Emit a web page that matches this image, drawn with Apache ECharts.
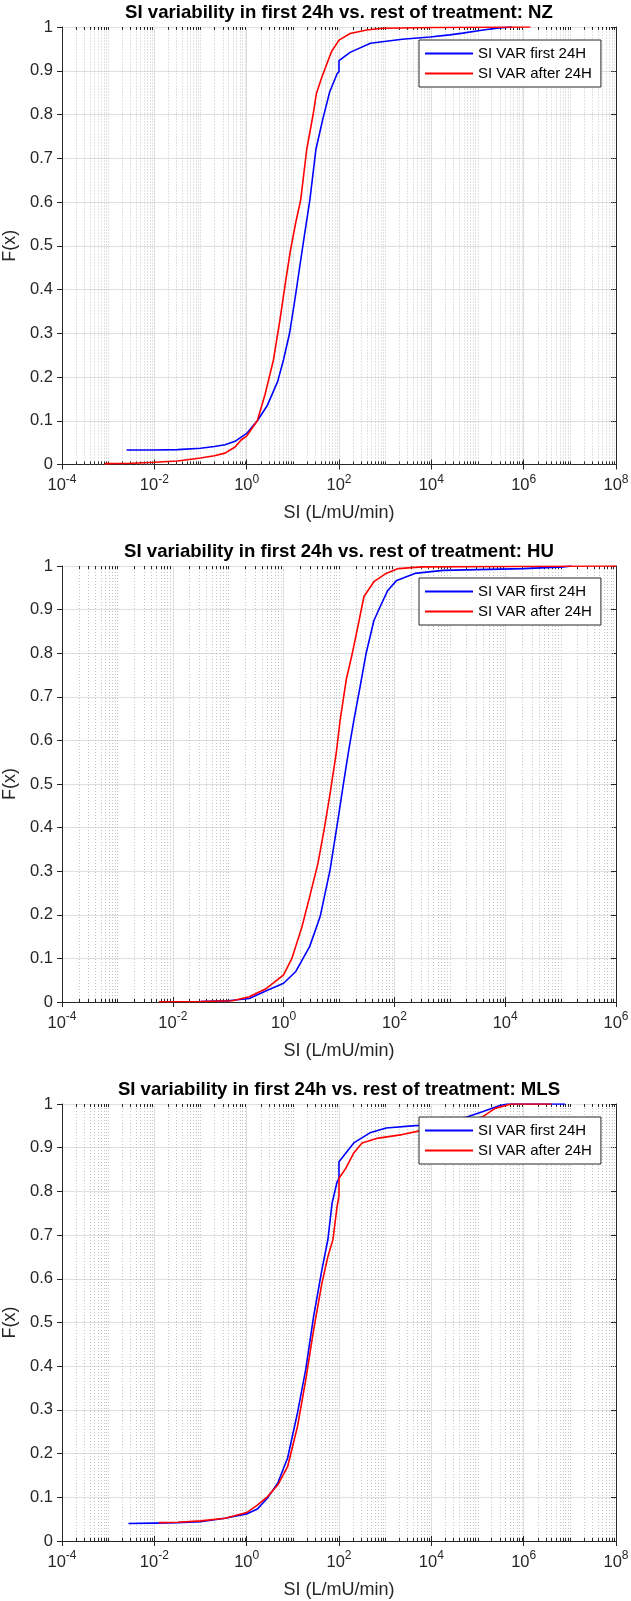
<!DOCTYPE html>
<html><head><meta charset="utf-8">
<script src="https://cdn.jsdelivr.net/npm/echarts@6/dist/echarts.min.js"></script>
<style>html,body{margin:0;padding:0;background:#fff}#c{width:631px;height:1601px}</style>
</head><body><div id="c"></div>
<script>
// ---------------- data ----------------
const panelNames = ['NZ', 'HU', 'MLS'];
const seriesNames = ['SI VAR first 24H', 'SI VAR after 24H'];
const xMinVals = [1e-4, 1e-4, 1e-4];
const xMaxVals = [1e8, 1e6, 1e8];
const yMinVal = 0, yMaxVal = 1, yStep = 0.1;

// NZ
const nzFirstSI = [0.0025, 0.01, 0.032, 0.1, 0.2, 0.34, 0.56, 1, 1.7, 2.8, 4.7, 6.3, 8.5, 11.2, 14.1, 18.2, 23.4, 31.6, 44.7, 63, 91, 100, 100, 174, 479, 2340, 9330, 2.5e4, 4.8e4, 1.32e5, 2.95e5, 5.6e5];
const nzFirstF  = [0.033, 0.033, 0.034, 0.037, 0.041, 0.045, 0.053, 0.071, 0.10, 0.135, 0.19, 0.24, 0.30, 0.38, 0.452, 0.53, 0.605, 0.72, 0.79, 0.852, 0.893, 0.898, 0.923, 0.942, 0.963, 0.972, 0.977, 0.982, 0.986, 0.993, 0.998, 1.0];
const nzAfterSI = [8.5e-4, 3.2e-3, 0.01, 0.032, 0.1, 0.2, 0.34, 0.56, 0.76, 1, 1.7, 2.5, 3.8, 5.25, 6.9, 8.9, 11.5, 14.8, 20, 27.5, 32.4, 41.7, 58.9, 69, 100, 174, 398, 891, 1e4, 1.4e6];
const nzAfterF  = [0.002, 0.003, 0.005, 0.008, 0.015, 0.02, 0.026, 0.04, 0.056, 0.065, 0.10, 0.16, 0.239, 0.33, 0.415, 0.49, 0.552, 0.605, 0.72, 0.80, 0.848, 0.883, 0.925, 0.944, 0.97, 0.985, 0.993, 0.997, 0.999, 1.0];

// HU
const huFirstSI = [0.032, 0.1, 0.24, 0.51, 1, 1.66, 2.95, 4.57, 6.9, 9.55, 12.3, 15.1, 18.6, 24, 30.9, 42.7, 55, 75.9, 110, 234, 759, 2.14e4, 1.12e5, 1.58e5];
const huFirstF  = [0.001, 0.003, 0.008, 0.027, 0.043, 0.07, 0.127, 0.196, 0.303, 0.417, 0.509, 0.58, 0.647, 0.723, 0.80, 0.875, 0.906, 0.944, 0.967, 0.983, 0.99, 0.994, 0.998, 1.0];
const huAfterSI = [5.6e-3, 0.032, 0.12, 0.24, 0.49, 1, 1.41, 2.14, 2.95, 4.17, 5.37, 6.9, 8.9, 10.5, 13.5, 17.4, 21.9, 28.2, 42.7, 70.8, 117, 316, 1e4, 1e6];
const huAfterF  = [0.0005, 0.001, 0.003, 0.012, 0.031, 0.062, 0.10, 0.172, 0.241, 0.318, 0.394, 0.478, 0.57, 0.647, 0.739, 0.80, 0.861, 0.93, 0.964, 0.983, 0.994, 0.998, 0.999, 1.0];

// MLS
const mlsFirstSI = [2.75e-3, 0.01, 0.032, 0.1, 0.34, 1, 1.7, 2.8, 4.7, 7.7, 12.6, 19, 28.2, 42.7, 57.5, 70.8, 91, 100, 100, 141, 209, 468, 1050, 5250, 1.58e4, 5.9e4, 1.32e5, 2.95e5, 4.4e5, 7.9e6];
const mlsFirstF  = [0.040, 0.041, 0.042, 0.044, 0.052, 0.062, 0.073, 0.098, 0.132, 0.19, 0.293, 0.392, 0.514, 0.621, 0.69, 0.773, 0.822, 0.83, 0.868, 0.888, 0.911, 0.934, 0.945, 0.951, 0.958, 0.97, 0.983, 0.996, 1.0, 1.0];
const mlsAfterSI = [0.0126, 0.032, 0.1, 0.34, 1, 1.7, 2.8, 4.7, 7.7, 12.6, 19, 28.2, 42.7, 57.5, 74, 91, 100, 100, 141, 209, 316, 708, 2340, 5250, 3.16e4, 1.26e5, 2.4e5, 5.4e5, 4e6];
const mlsAfterF  = [0.042, 0.043, 0.046, 0.052, 0.065, 0.082, 0.101, 0.128, 0.17, 0.262, 0.368, 0.483, 0.59, 0.651, 0.69, 0.766, 0.79, 0.83, 0.853, 0.888, 0.911, 0.922, 0.93, 0.938, 0.95, 0.97, 0.99, 1.0, 1.0];

const firstSI = [nzFirstSI, huFirstSI, mlsFirstSI];
const firstF = [nzFirstF, huFirstF, mlsFirstF];
const afterSI = [nzAfterSI, huAfterSI, mlsAfterSI];
const afterF = [nzAfterF, huAfterF, mlsAfterF];

// ---------------- layout / style ----------------
const FONT = 'Liberation Sans, Arial, Helvetica, sans-serif';
const AX = '#262626';
const gridLeft = 62, gridWidth = 554;
const gridTops = [27, 566, 1104];
const gridHeights = [437.5, 436, 437];
const legendTops = [40, 578, 1117];

function zip(xs, ys) { return xs.map((x, i) => [x, ys[i]]); }
function minorValues(minV, maxV) {
  const minE = Math.round(Math.log10(minV)), maxE = Math.round(Math.log10(maxV));
  const out = [];
  for (let e = minE; e < maxE; e++) {
    for (let k = 1; k <= 9; k++) {
      if (k === 1 && (e - minE) % 2 === 0) continue;
      out.push([k * Math.pow(10, e), 0]);
    }
  }
  return out;
}
function expLabel(v) {
  const e = Math.round(Math.log10(v));
  return '{b|10}{s|' + e + '}';
}

const grids = [], xAxes = [], yAxes = [], series = [], legends = [], graphics = [];
for (let p = 0; p < 3; p++) {
  grids.push({ left: gridLeft, top: gridTops[p], width: gridWidth, height: gridHeights[p], show: true, backgroundColor: '#fff', borderWidth: 0, containLabel: false, outerBoundsMode: 'none' });
  xAxes.push({
    type: 'log', logBase: 100, gridIndex: p, min: xMinVals[p], max: xMaxVals[p],
    position: 'bottom',
    name: 'SI (L/mU/min)', nameLocation: 'middle', nameGap: 40,
    nameTextStyle: { fontFamily: FONT, fontSize: 18, color: AX },
    axisLine: { show: true, lineStyle: { color: AX, width: 1 } },
    axisTick: { show: true, inside: true, length: 5, lineStyle: { color: AX } },
    axisLabel: {
      margin: 9, formatter: expLabel, color: AX, hideOverlap: false,
      rich: {
        b: { fontFamily: FONT, fontSize: 16.5, color: AX, lineHeight: 24, verticalAlign: 'middle' },
        s: { fontFamily: FONT, fontSize: 12, color: AX, lineHeight: 12, verticalAlign: 'top' }
      }
    },
    splitLine: { show: true, lineStyle: { color: '#dfdfdf', width: 1 } },
    minorTick: { show: false }
  });
  xAxes.push({
    type: 'log', logBase: 100, gridIndex: p, min: xMinVals[p], max: xMaxVals[p],
    position: 'top',
    axisLine: { show: true, lineStyle: { color: AX, width: 1 } },
    axisTick: { show: true, inside: true, length: 5, lineStyle: { color: AX } },
    axisLabel: { show: false }, splitLine: { show: false }
  });
  yAxes.push({
    type: 'value', gridIndex: p, min: yMinVal, max: yMaxVal, interval: yStep, position: 'left',
    name: 'F(x)', nameLocation: 'middle', nameGap: 39, nameRotate: 90,
    nameTextStyle: { fontFamily: FONT, fontSize: 18, color: AX },
    axisLine: { show: true, lineStyle: { color: AX, width: 1 } },
    axisTick: { show: true, inside: false, length: 5, lineStyle: { color: AX } },
    axisLabel: { margin: 9, fontFamily: FONT, fontSize: 16.5, color: AX },
    splitLine: { show: true, lineStyle: { color: '#dfdfdf', width: 1 } }
  });
  yAxes.push({
    type: 'value', gridIndex: p, min: yMinVal, max: yMaxVal, interval: yStep, position: 'right',
    axisLine: { show: true, lineStyle: { color: AX, width: 1 } },
    axisTick: { show: true, inside: true, length: 5, lineStyle: { color: AX } },
    axisLabel: { show: false }, splitLine: { show: false }
  });
  const xi = p * 2, yi = p * 2;
  series.push({
    type: 'custom', name: 'minor' + p, xAxisIndex: xi, yAxisIndex: yi, silent: true, z: 1,
    data: minorValues(xMinVals[p], xMaxVals[p]), encode: { x: 0, y: 1 },
    renderItem: function (params, api) {
      const v = api.value(0);
      const a = api.coord([v, yMinVal]);
      const b = api.coord([v, yMaxVal]);
      const x = Math.round(a[0]) + 0.5;
      return {
        type: 'group', children: [
          { type: 'line', shape: { x1: x, y1: a[1], x2: x, y2: b[1] }, style: { stroke: '#c4c4c4', lineWidth: 1, lineDash: [1, 2] } },
          { type: 'line', shape: { x1: x, y1: a[1], x2: x, y2: a[1] - 3 }, style: { stroke: AX, lineWidth: 1 } },
          { type: 'line', shape: { x1: x, y1: b[1], x2: x, y2: b[1] + 3 }, style: { stroke: AX, lineWidth: 1 } }
        ]
      };
    }
  });
  series.push({
    type: 'line', name: seriesNames[0], xAxisIndex: xi, yAxisIndex: yi, z: 3,
    data: zip(firstSI[p], firstF[p]), showSymbol: false, symbol: 'none', smooth: false,
    color: '#0000ff', lineStyle: { color: '#0000ff', width: 1.6 }, emphasis: { disabled: true }
  });
  series.push({
    type: 'line', name: seriesNames[1], xAxisIndex: xi, yAxisIndex: yi, z: 3,
    data: zip(afterSI[p], afterF[p]), showSymbol: false, symbol: 'none', smooth: false,
    color: '#ff0000', lineStyle: { color: '#ff0000', width: 1.6 }, emphasis: { disabled: true }
  });
  legends.push({
    data: seriesNames, orient: 'vertical', left: 419, top: legendTops[p],
    icon: 'rect', itemWidth: 48, itemHeight: 2, itemGap: 5,
    padding: [6, 9, 6, 6], backgroundColor: '#fff', borderColor: AX, borderWidth: 1,
    textStyle: { fontFamily: FONT, fontSize: 15, color: '#000' },
    selectedMode: false, z: 10
  });
  graphics.push({
    type: 'text', x: gridLeft + gridWidth / 2, y: gridTops[p] - 14, z: 10,
    style: {
      text: 'SI variability in first 24h vs. rest of treatment: ' + panelNames[p],
      font: 'bold 18.6px ' + FONT, fill: '#000',
      align: 'center', verticalAlign: 'middle', textAlign: 'center', textVerticalAlign: 'middle'
    }
  });
}

const chart = echarts.init(document.getElementById('c'), null, { renderer: 'canvas' });
chart.setOption({
  backgroundColor: '#fff', animation: false,
  grid: grids, xAxis: xAxes, yAxis: yAxes, series: series, legend: legends, graphic: graphics
});
</script></body></html>
